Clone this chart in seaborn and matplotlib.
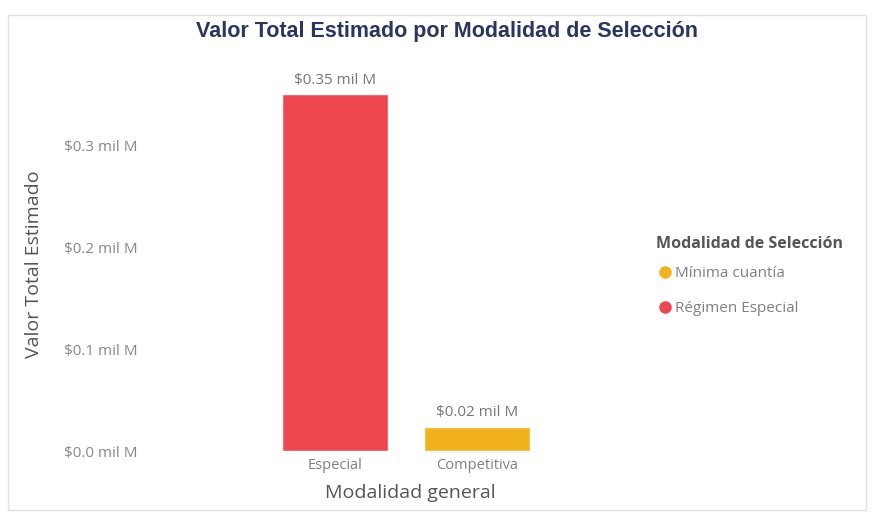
import matplotlib
matplotlib.use("Agg")
import matplotlib.pyplot as plt
from matplotlib.lines import Line2D
from matplotlib.patches import Rectangle
import seaborn as sns
import pandas as pd

# values in "mil M" (thousand millions)
categories = ["Especial", "Competitiva"]
modalidades = ["Régimen Especial", "Mínima cuantía"]
valores = [0.35, 0.024]
etiquetas = ["$0.35 mil M", "$0.02 mil M"]
yticks = [0.0, 0.1, 0.2, 0.3]
ytick_labels = ["$0.0 mil M", "$0.1 mil M", "$0.2 mil M", "$0.3 mil M"]
legend_order = ["Mínima cuantía", "Régimen Especial"]
colores = {"Régimen Especial": "#EF4650", "Mínima cuantía": "#F1B21C"}

data = pd.DataFrame({"Modalidad general": categories,
                     "Modalidad de Selección": modalidades,
                     "Valor": valores})

sns.set_theme(style="white")
plt.rcParams['font.family'] = ['Open Sans', 'DejaVu Sans']

fig = plt.figure(figsize=(8.75, 5.18), dpi=100)
ax = fig.add_axes([150/875, 67/518, 400/875, 367/518])

sns.barplot(data=data, x="Modalidad general", y="Valor", hue="Modalidad de Selección",
            palette=colores, dodge=False, width=0.74, saturation=1, ax=ax, legend=False)

ax.set_xlim(-1.303, 1.514)
ax.set_ylim(0, 0.36)
ax.set_yticks(yticks)
ax.set_yticklabels(ytick_labels, color="#888888", fontsize=11)
ax.tick_params(axis="x", colors="#808080", labelsize=10.5, length=0, pad=5)
ax.tick_params(axis="y", length=0, pad=9)
for s in ax.spines.values():
    s.set_visible(False)
ax.set_xlabel("Modalidad general", fontsize=14, color="#555555")
ax.xaxis.set_label_coords((410 - 150) / 400, -(493 - 451) / 367)
ax.xaxis.label.set_va("center")
ax.set_ylabel("Valor Total Estimado", fontsize=14, color="#555555")
ax.yaxis.set_label_coords(-(150 - 34) / 400, (451 - 264) / 367)
ax.yaxis.label.set_va("center")

for i, (v, t) in enumerate(zip(valores, etiquetas)):
    ax.text(i, v + 0.006, t, ha="center", va="bottom", fontsize=11, color="#777777")

fig.text(447/875, 1 - 31/518, "Valor Total Estimado por Modalidad de Selección",
         ha="center", va="center", fontsize=15.5, fontweight="bold",
         color="#2A3560", family=["Liberation Sans", "DejaVu Sans"])

# legend title drawn separately so its gap to the entries can be set
fig.text(656/875, 1 - 244/518, "Modalidad de Selección", ha="left", va="center",
         fontsize=11.5, fontweight="bold", color="#555555")
handles = [Line2D([0], [0], marker="o", linestyle="", markersize=8,
                  markerfacecolor=colores[m], markeredgecolor=colores[m], label=m)
           for m in legend_order]
leg = fig.legend(handles=handles, loc="upper left",
                 bbox_to_anchor=(656/875, 1 - 266/518), frameon=False,
                 fontsize=11, handletextpad=0.05, handlelength=1.2,
                 labelspacing=1.3, borderaxespad=0, borderpad=0)
for t in leg.get_texts():
    t.set_color("#808080")

fig.patches.append(Rectangle((8/875, 8/518), 858/875, 495/518, transform=fig.transFigure,
                             fill=False, edgecolor="#E2E2E2", linewidth=1))

fig.savefig("out.png", dpi=100)
